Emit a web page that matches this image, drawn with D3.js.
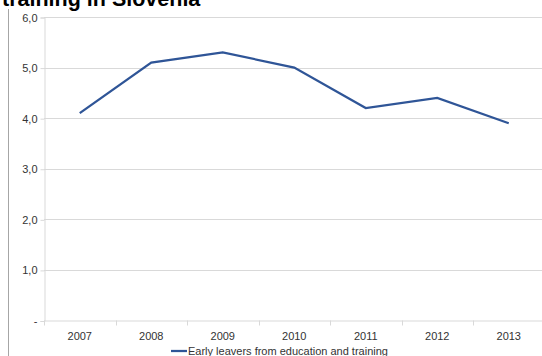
<!DOCTYPE html>
<html><head><meta charset="utf-8">
<script src="https://cdn.jsdelivr.net/npm/d3@7"></script>
<style>body{margin:0;background:#fff}svg{display:block}</style>
</head><body>
<svg id="c" width="542" height="356"></svg>
<script>
const years = ["2007","2008","2009","2010","2011","2012","2013"];
const values = [4.1, 5.1, 5.3, 5.0, 4.2, 4.4, 3.9];
const yTicks = [0, 1, 2, 3, 4, 5, 6];
const seriesName = "Early leavers from education and training";
const titleText = "training in Slovenia";

const svg = d3.select("#c");
const m = {l:44, r:544.5, t:17, b:320.5};
const x = d3.scaleBand().domain(years).range([m.l, m.r]);
const y = d3.scaleLinear().domain([0,6]).range([m.b, m.t]);

// frame
svg.append("line").attr("x1",8.5).attr("x2",8.5).attr("y1",9).attr("y2",356)
  .attr("stroke","#a6a6a6").attr("stroke-width",1);

// gridlines
svg.append("g").selectAll("line").data(yTicks.filter(d=>d>0)).join("line")
  .attr("x1",m.l).attr("x2",m.r)
  .attr("y1",d=>Math.round(y(d))+0.5).attr("y2",d=>Math.round(y(d))+0.5)
  .attr("stroke","#d9d9d9");

// y axis
const ya = svg.append("g").attr("transform",`translate(${m.l+0.5},0.5)`)
  .call(d3.axisLeft(y).tickValues(yTicks).tickSize(4).tickPadding(3)
    .tickFormat(d=> d===0 ? "-" : d3.format(".1f")(d).replace(".",",")));
ya.select(".domain").attr("stroke","#d9d9d9");
ya.selectAll(".tick line").attr("stroke","#d9d9d9");
ya.selectAll("text").attr("font-family","Arial, Liberation Sans, sans-serif").attr("font-size",11).attr("fill","#333");

// x axis
const xa = svg.append("g").attr("transform",`translate(0,${m.b})`)
  .call(d3.axisBottom(x).tickSize(0).tickPadding(12));
xa.select(".domain").remove();
xa.selectAll("text").attr("font-family","Arial, Liberation Sans, sans-serif").attr("font-size",11).attr("fill","#333");
// x tick marks at band boundaries
svg.append("g").selectAll("line").data(years).join("line")
  .attr("x1",d=>Math.round(x(d))+0.5).attr("x2",d=>Math.round(x(d))+0.5)
  .attr("y1",m.b).attr("y2",m.b+5).attr("stroke","#d9d9d9");
svg.append("line").attr("x1",m.l).attr("x2",m.r).attr("y1",m.b+0.5).attr("y2",m.b+0.5).attr("stroke","#d9d9d9");

// line
const line = d3.line().x((d,i)=>x(years[i])+x.bandwidth()/2).y(d=>y(d));
svg.append("path").datum(values).attr("d",line)
  .attr("fill","none").attr("stroke","#2f5597").attr("stroke-width",2.25).attr("stroke-linejoin","miter");

// legend
const lg = svg.append("g").attr("transform","translate(171,351)");
lg.append("line").attr("x1",0).attr("x2",16).attr("y1",0).attr("y2",0).attr("stroke","#2f5597").attr("stroke-width",2.25);
lg.append("text").attr("x",17).attr("y",4).text(seriesName)
  .attr("font-family","Arial, Liberation Sans, sans-serif").attr("font-size",11).attr("fill","#333");

// title (clipped at top)
svg.append("text").attr("x",2).attr("y",6).text(titleText)
  .attr("font-family","Arial, Liberation Sans, sans-serif").attr("font-weight","bold").attr("font-size",21.5).attr("fill","#000");
</script>
</body></html>
